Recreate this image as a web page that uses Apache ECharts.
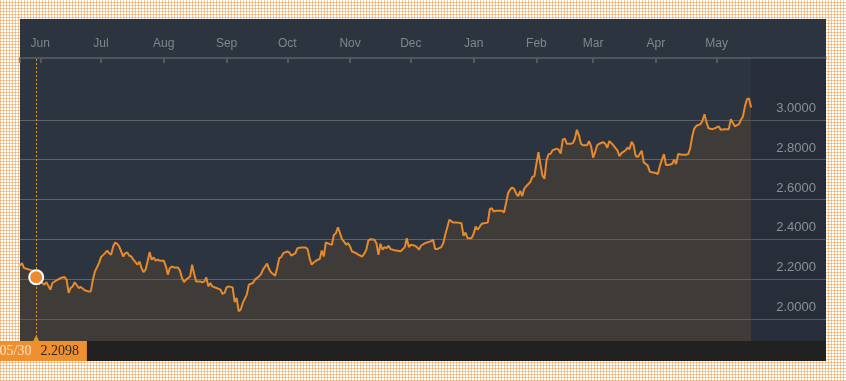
<!DOCTYPE html>
<html><head><meta charset="utf-8">
<script src="https://cdn.jsdelivr.net/npm/echarts@6/dist/echarts.min.js"></script>
<style>
html,body{margin:0;padding:0;width:846px;height:381px;overflow:hidden;}
body{background-color:#fff;background-image:linear-gradient(90deg,rgba(240,150,60,0.5) 50%,transparent 50%),linear-gradient(0deg,rgba(240,150,60,0.5) 50%,transparent 50%);background-size:3px 3px;}
#panel{position:absolute;left:20px;top:19px;width:806px;height:342px;background:linear-gradient(to bottom,#2c3440 0,#2c3440 322px,#212121 322px,#212121 342px);}
#chart{position:absolute;left:0;top:0;width:846px;height:381px;}
</style></head><body>
<div id="panel"></div><div id="chart"></div>
<script>
const dates = [
'2016-05-22','2016-05-23','2016-05-24','2016-05-26','2016-05-27','2016-05-28','2016-05-30',
'2016-06-02','2016-06-03','2016-06-04','2016-06-06','2016-06-07','2016-06-09','2016-06-11','2016-06-13','2016-06-14','2016-06-15','2016-06-16','2016-06-17','2016-06-18','2016-06-20','2016-06-21','2016-06-23','2016-06-25','2016-06-26','2016-06-27','2016-06-28','2016-06-30',
'2016-07-01','2016-07-03','2016-07-04','2016-07-05','2016-07-06','2016-07-07','2016-07-08','2016-07-09','2016-07-10','2016-07-12','2016-07-13','2016-07-14','2016-07-15','2016-07-16','2016-07-17','2016-07-19','2016-07-20','2016-07-21','2016-07-22','2016-07-23','2016-07-24','2016-07-25','2016-07-26','2016-07-27','2016-07-28','2016-07-29','2016-07-30',
'2016-08-01','2016-08-02','2016-08-03','2016-08-04','2016-08-05','2016-08-06','2016-08-08','2016-08-09','2016-08-10','2016-08-11','2016-08-12','2016-08-14','2016-08-15','2016-08-16','2016-08-17','2016-08-19','2016-08-20','2016-08-21','2016-08-22','2016-08-23','2016-08-24','2016-08-25','2016-08-27','2016-08-29','2016-08-30','2016-08-31',
'2016-09-01','2016-09-02','2016-09-04','2016-09-05','2016-09-06','2016-09-07','2016-09-08','2016-09-09','2016-09-11','2016-09-12','2016-09-14','2016-09-15','2016-09-17','2016-09-18','2016-09-19','2016-09-20','2016-09-21','2016-09-22','2016-09-23','2016-09-25','2016-09-26','2016-09-27','2016-09-28','2016-09-29',
'2016-10-01','2016-10-02','2016-10-03','2016-10-05','2016-10-06','2016-10-08','2016-10-10','2016-10-11','2016-10-12','2016-10-13','2016-10-14','2016-10-16','2016-10-17','2016-10-18','2016-10-19','2016-10-20','2016-10-22','2016-10-23','2016-10-24','2016-10-25','2016-10-26','2016-10-27','2016-10-28','2016-10-29','2016-10-30','2016-10-31',
'2016-11-01','2016-11-02','2016-11-04','2016-11-05','2016-11-07','2016-11-08','2016-11-09','2016-11-10','2016-11-11','2016-11-13','2016-11-14','2016-11-15','2016-11-16','2016-11-17','2016-11-18','2016-11-19','2016-11-20','2016-11-21','2016-11-23','2016-11-26','2016-11-28','2016-11-29','2016-11-30',
'2016-12-01','2016-12-03','2016-12-04','2016-12-05','2016-12-06','2016-12-08','2016-12-09','2016-12-11','2016-12-12','2016-12-13','2016-12-14','2016-12-16','2016-12-17','2016-12-18','2016-12-20','2016-12-22','2016-12-24','2016-12-26','2016-12-27','2016-12-28','2016-12-29','2016-12-31',
'2017-01-01','2017-01-02','2017-01-03','2017-01-05','2017-01-06','2017-01-08','2017-01-09','2017-01-10','2017-01-11','2017-01-12','2017-01-15','2017-01-16','2017-01-17','2017-01-18','2017-01-19','2017-01-20','2017-01-21','2017-01-22','2017-01-23','2017-01-24','2017-01-25','2017-01-26','2017-01-27','2017-01-29','2017-01-30','2017-01-31',
'2017-02-01','2017-02-02','2017-02-03','2017-02-04','2017-02-05','2017-02-06','2017-02-07','2017-02-08','2017-02-09','2017-02-11','2017-02-12','2017-02-13','2017-02-14','2017-02-15','2017-02-16','2017-02-18','2017-02-19','2017-02-20','2017-02-21','2017-02-22','2017-02-23','2017-02-24','2017-02-26','2017-02-27','2017-02-28',
'2017-03-01','2017-03-02','2017-03-03','2017-03-04','2017-03-06','2017-03-07','2017-03-08','2017-03-09','2017-03-10','2017-03-11','2017-03-13','2017-03-14','2017-03-15','2017-03-17','2017-03-18','2017-03-19','2017-03-20','2017-03-21','2017-03-22','2017-03-23','2017-03-24','2017-03-25','2017-03-26','2017-03-28','2017-03-29','2017-03-30',
'2017-04-01','2017-04-02','2017-04-03','2017-04-04','2017-04-05','2017-04-06','2017-04-07','2017-04-09','2017-04-10','2017-04-11','2017-04-12','2017-04-14','2017-04-16','2017-04-17','2017-04-18','2017-04-19','2017-04-20','2017-04-21','2017-04-23','2017-04-24','2017-04-25','2017-04-26','2017-04-27','2017-04-29','2017-04-30',
'2017-05-02','2017-05-03','2017-05-05','2017-05-07','2017-05-08','2017-05-10','2017-05-12','2017-05-13','2017-05-14','2017-05-15','2017-05-16','2017-05-17','2017-05-18'
];
const values = [
2.268,2.281,2.256,2.250,2.247,2.244,2.2098,
2.181,2.173,2.185,2.148,2.181,2.194,2.206,2.211,2.198,2.131,2.156,2.164,2.185,2.156,2.161,2.145,2.138,2.140,2.198,2.239,2.281,
2.311,2.331,2.344,2.331,2.323,2.364,2.384,2.378,2.364,2.314,2.331,2.334,2.318,2.314,2.298,2.273,2.289,2.256,2.236,2.248,2.289,2.336,2.298,2.309,2.293,2.298,2.293,
2.293,2.266,2.223,2.256,2.264,2.259,2.259,2.243,2.206,2.186,2.198,2.214,2.273,2.226,2.189,2.189,2.184,2.189,2.209,2.164,2.181,2.164,2.156,2.148,2.126,2.131,
2.159,2.164,2.159,2.085,2.106,2.039,2.048,2.081,2.123,2.173,2.181,2.198,2.214,2.226,2.248,2.264,2.278,2.251,2.234,2.218,2.256,2.306,2.311,2.331,
2.339,2.334,2.318,2.331,2.356,2.359,2.359,2.351,2.306,2.273,2.284,2.298,2.301,2.344,2.314,2.384,2.376,2.373,2.423,2.431,2.461,2.431,2.401,2.389,2.373,2.381,
2.364,2.339,2.331,2.323,2.314,2.328,2.348,2.394,2.401,2.398,2.381,2.323,2.378,2.348,2.361,2.356,2.368,2.351,2.345,2.340,2.361,2.406,2.361,
2.373,2.368,2.361,2.348,2.368,2.381,2.384,2.391,2.398,2.351,2.351,2.361,2.381,2.423,2.498,2.484,2.484,2.481,2.418,2.434,2.406,2.406,
2.428,2.464,2.448,2.478,2.481,2.484,2.551,2.556,2.539,2.544,2.544,2.534,2.581,2.631,2.650,2.660,2.653,2.630,2.617,2.643,2.617,2.655,2.667,2.688,2.713,2.717,
2.780,2.838,2.776,2.720,2.705,2.797,2.827,2.830,2.847,2.855,2.850,2.830,2.900,2.905,2.880,2.880,2.883,2.905,2.950,2.922,2.880,2.872,2.872,2.893,2.867,
2.810,2.838,2.872,2.880,2.888,2.880,2.860,2.893,2.883,2.872,2.847,2.817,2.833,2.847,2.860,2.853,2.890,2.873,2.820,2.812,2.828,2.845,2.787,2.770,2.740,2.737,
2.733,2.728,2.770,2.800,2.828,2.773,2.773,2.778,2.800,2.778,2.828,2.825,2.825,2.828,2.860,2.920,2.957,2.970,2.978,2.995,3.028,2.987,2.957,2.953,2.957,
2.967,2.950,2.953,2.953,3.003,2.967,2.978,3.000,3.017,3.070,3.103,3.107,3.062
];
const monthNames = ['Jan','Feb','Mar','Apr','May','Jun','Jul','Aug','Sep','Oct','Nov','Dec'];
const yTicks = [2.0, 2.2, 2.4, 2.6, 2.8, 3.0];
const axisStart = '2016-05-22';
const axisEnd = '2017-06-24';
const focusDate = '2016-05-30';
const focusValue = 2.2098;
const lastDate = dates[dates.length - 1];

function fmt(d) {
  const m = d.getMonth() + 1, day = d.getDate();
  return d.getFullYear() + '-' + (m < 10 ? '0' : '') + m + '-' + (day < 10 ? '0' : '') + day;
}
const cats = [];
{
  const p = axisStart.split('-').map(Number), q = axisEnd.split('-').map(Number);
  const d = new Date(p[0], p[1] - 1, p[2], 12);
  const end = new Date(q[0], q[1] - 1, q[2], 12);
  while (d <= end) { cats.push(fmt(d)); d.setDate(d.getDate() + 1); }
}
const lookup = {};
dates.forEach((d, i) => { lookup[d] = values[i]; });
const seriesData = cats.map(c => (c in lookup ? lookup[c] : null));

const isMonthStart = (idx, val) => val.slice(8) === '01' && val <= lastDate;

const chart = echarts.init(document.getElementById('chart'), null, { renderer: 'canvas' });
chart.setOption({
  animation: false,
  backgroundColor: 'transparent',
  grid: { left: 20, right: 20, top: 58, bottom: 40, containLabel: false, outerBoundsMode: 'none' },
  xAxis: {
    type: 'category', position: 'top', data: cats, boundaryGap: false,
    axisLine: { show: true, lineStyle: { color: '#596068', width: 1.5 } },
    axisTick: { show: true, inside: true, length: 5, interval: (i, v) => i === 0 || isMonthStart(i, v), lineStyle: { color: '#5e656c', width: 1.5 } },
    axisLabel: { interval: isMonthStart, margin: 8, color: '#80868d', fontSize: 12, fontFamily: 'Liberation Sans',
      formatter: v => monthNames[+v.slice(5, 7) - 1] },
    splitLine: { show: false }
  },
  yAxis: {
    type: 'value', position: 'right', min: 1.89, max: 3.31, scale: true,
    axisLine: { show: false },
    axisTick: { show: false, customValues: yTicks },
    axisLabel: { inside: true, customValues: yTicks, margin: 10, color: '#9aa0a6', fontSize: 13, fontFamily: 'Liberation Sans',
      verticalAlign: 'bottom', padding: [0, 0, 5, 0], formatter: v => v.toFixed(4) },
    splitLine: { show: true, lineStyle: { color: '#5e656c', width: 1.2 } }
  },
  series: [{
    type: 'line', data: seriesData, connectNulls: true, symbol: 'none', showSymbol: false, z: 3,
    lineStyle: { color: '#e8892b', width: 2 },
    itemStyle: { color: '#e8892b' },
    areaStyle: { color: 'rgba(98,74,44,0.5)' },
    markArea: { silent: true, itemStyle: { color: 'rgba(0,0,0,0.1)' }, data: [[{ xAxis: lastDate }, { xAxis: axisEnd }]] },
    markLine: {
      silent: true, symbol: ['triangle', 'none'], symbolSize: [12, 12], symbolRotate: 360,
      lineStyle: { color: '#d99520', type: [2, 2], width: 1 },
      label: {
        show: true, position: 'start', distance: 0,
        formatter: () => '{d|05/30}{v|' + focusValue.toFixed(4) + '}',
        backgroundColor: '#ef8f2f', padding: [0, 8, 0, 14], lineHeight: 20, height: 20,
        rich: {
          d: { color: '#fde2c2', fontFamily: 'Liberation Serif', fontSize: 14, lineHeight: 20 },
          v: { color: '#2a2a2a', fontFamily: 'Liberation Serif', fontSize: 14, lineHeight: 20, padding: [0, 0, 0, 9] }
        }
      },
      data: [{ xAxis: focusDate }]
    },
    markPoint: {
      silent: true, symbol: 'circle', symbolSize: 14,
      itemStyle: { color: '#ec8a2c', borderColor: '#ffffff', borderWidth: 2 },
      label: { show: false },
      data: [{ coord: [focusDate, focusValue] }]
    }
  }]
});
</script>
</body></html>
